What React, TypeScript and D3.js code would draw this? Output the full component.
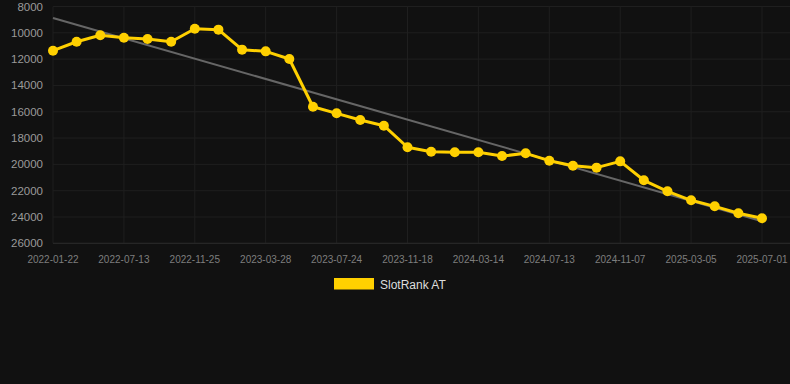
import { FC } from 'react';
import * as d3 from 'd3';

const dates = [
  '2022-01-22', '2022-03-19', '2022-05-16', '2022-07-13', '2022-08-27', '2022-10-11',
  '2022-11-25', '2023-01-04', '2023-02-15', '2023-03-28', '2023-05-08', '2023-06-16',
  '2023-07-24', '2023-08-31', '2023-10-09', '2023-11-18', '2023-12-27', '2024-02-04',
  '2024-03-14', '2024-04-22', '2024-05-31', '2024-07-13', '2024-08-21', '2024-09-29',
  '2024-11-07', '2024-12-16', '2025-01-25', '2025-03-05', '2025-04-12', '2025-05-21',
  '2025-07-01',
];

const ranks = [
  11360, 10680, 10190, 10370, 10470, 10680, 9690, 9760, 11280, 11410, 11990, 15620,
  16120, 16630, 17060, 18700, 19040, 19080, 19080, 19370, 19160, 19720, 20100, 20250,
  19770, 21210, 22050, 22730, 23190, 23720, 24100,
];

const yTicks = [8000, 10000, 12000, 14000, 16000, 18000, 20000, 22000, 24000, 26000];
const seriesName = 'SlotRank AT';

const WIDTH = 790;
const HEIGHT = 384;
const LEFT = 53;
const RIGHT = 762;
const TOP = 6.5;
const BOTTOM = 243.3;
const GOLD = '#ffd000';
const FONT = 'Arial, "Liberation Sans", sans-serif';

const App: FC = () => {
  const x = d3.scalePoint<string>().domain(dates).range([LEFT, RIGHT]);
  const y = d3.scaleLinear().domain([8000, 26000]).range([TOP, BOTTOM]);

  // least-squares trend over the point index
  const n = ranks.length;
  const meanI = (n - 1) / 2;
  const meanV = d3.mean(ranks) as number;
  const slope =
    d3.sum(ranks, (v, i) => (i - meanI) * (v - meanV)) /
    d3.sum(ranks, (_, i) => (i - meanI) ** 2);
  const trendStart = meanV - slope * meanI;
  const trendEnd = meanV + slope * meanI;

  const line = d3
    .line<number>()
    .x((_, i) => x(dates[i]) as number)
    .y((d) => y(d));

  const xLabels = dates.filter((_, i) => i % 3 === 0);

  return (
    <svg
      width={WIDTH}
      height={HEIGHT}
      style={{ position: 'absolute', left: 0, top: 0, background: '#111111' }}
    >
      <rect width={WIDTH} height={HEIGHT} fill="#111111" />
      {yTicks.map((t) => (
        <line key={t} x1={LEFT} x2={WIDTH} y1={y(t)} y2={y(t)} stroke="#1f1f1f" />
      ))}
      {xLabels.map((d) => (
        <line key={d} x1={x(d)} x2={x(d)} y1={TOP} y2={BOTTOM} stroke="#1f1f1f" />
      ))}
      <line x1={LEFT} x2={WIDTH} y1={BOTTOM} y2={BOTTOM} stroke="#2a2a2a" />
      {yTicks.map((t) => (
        <text
          key={t}
          x={43}
          y={y(t)}
          dy="0.35em"
          textAnchor="end"
          fontSize={11.5}
          fontFamily={FONT}
          fill="#9a9a9a"
        >
          {t}
        </text>
      ))}
      {xLabels.map((d) => (
        <text
          key={d}
          x={x(d)}
          y={263}
          textAnchor="middle"
          fontSize={10}
          fontFamily={FONT}
          fill="#7e7e7e"
        >
          {d}
        </text>
      ))}
      <line
        x1={x(dates[0])}
        y1={y(trendStart)}
        x2={x(dates[n - 1])}
        y2={y(trendEnd)}
        stroke="#666666"
        strokeWidth={2}
      />
      <path d={line(ranks) ?? ''} fill="none" stroke={GOLD} strokeWidth={3} strokeLinejoin="round" />
      {ranks.map((v, i) => (
        <circle key={i} cx={x(dates[i])} cy={y(v)} r={5} fill={GOLD} />
      ))}
      <rect x={334} y={278} width={40} height={11.5} fill={GOLD} />
      <text x={380} y={288.5} fontSize={12} fontFamily={FONT} fill="#dddddd">
        {seriesName}
      </text>
    </svg>
  );
};

export default App;
